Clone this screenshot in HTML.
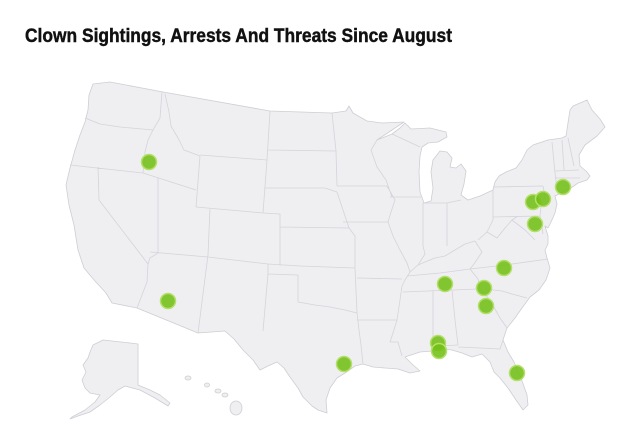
<!DOCTYPE html>
<html><head><meta charset="utf-8"><style>
html,body{margin:0;padding:0;background:#fff;}
svg{display:block;}
</style></head><body>
<svg width="640" height="447" viewBox="0 0 640 447" xmlns="http://www.w3.org/2000/svg">
<rect width="640" height="447" fill="#fff"/>
<text x="25" y="42" font-family="Liberation Sans, sans-serif" font-weight="bold" font-size="19" fill="#111" stroke="#111" stroke-width="0.45" textLength="427" lengthAdjust="spacingAndGlyphs">Clown Sightings, Arrests And Threats Since August</text>
<path fill="#efeff2" stroke="#cdcdd4" stroke-width="0.8" stroke-linejoin="round" d="M93,84 L110,82 L163,92 L270,111 L332,113 L346,111 L349,106 L353,113 L367,121 L382,123 L404,122 L392,130 L377,140 L392,134 L400,128 L405,123 L411,129 L430,128 L446,132 L447,137 L438,142 L428,143 L422,147 L420,156 L419,172 L420,192 L424,203 L431,201 L433,188 L431,172 L433,160 L440,151 L447,152 L452,158 L450,167 L456,168 L461,164 L466,171 L464,184 L461,195 L468,200 L480,196 L493,190 L495,182 L499,176 L506,172 L516,168 L522,160 L527,150 L533,145 L548,140 L562,138 L566,136 L570,110 L573,106 L587,100 L592,110 L600,119 L605,127 L597,136 L585,145 L579,155 L580,166 L586,171 L590,176 L587,180 L578,183 L571,188 L563,192 L555,196 L557,204 L555,213 L551,222 L548,228 L545,226 L548,236 L548,244 L545,250 L547,258 L550,268 L546,280 L539,290 L530,297 L522,308 L515,318 L507,328 L503,340 L508,352 L514,362 L521,378 L527,395 L528,405 L523,410 L516,400 L508,388 L500,378 L494,372 L490,362 L482,354 L472,357 L462,353 L452,350 L442,349 L433,351 L420,352 L405,357 L412,364 L420,371 L410,373 L398,369 L385,368 L373,367 L363,364 L355,366 L345,373 L337,378 L330,388 L326,400 L327,413 L318,410 L312,406 L303,397 L298,388 L290,377 L284,368 L277,362 L268,366 L260,370 L253,360 L243,350 L234,339 L225,331 L198,333 L137,308 L112,303 L106,293 L95,281 L84,268 L78,250 L74,225 L69,205 L66,185 L70,168 L75,150 L80,135 L85,122 L88,110 L89,95 Z"/>
<path fill="none" stroke="#d3d3da" stroke-width="0.8" stroke-linejoin="round" d="
M85,118 L100,124 L120,127 L153,130
M162,92 L160,118 L153,130
M153,130 L148,140 L145,152 L143,173
M70,165 L143,173
M143,173 L196,190
M165,94 L169,112 L171,126 L178,138 L184,150 L200,156
M200,156 L196,207
M200,155 L267,160
M270,111 L267,160
M267,160 L263,213
M196,207 L263,213
M210,208 L208,255 L198,333
M158,178 L158,253
M158,253 L150,258 L148,264
M98,167 L99,200 L148,264
M148,264 L147,282 L137,308
M150,252 L208,257 L268,264 L300,266 L355,268
M263,213 L280,214 L280,266
M280,227 L349,228
M265,188 L325,188 L337,192
M268,150 L336,151
M332,113 L336,151 L337,186
M337,192 L343,210 L349,228
M337,186 L387,186
M343,222 L388,222
M387,186 L395,200 L391,212 L388,222
M349,228 L355,236 L355,268
M388,222 L393,236 L400,250 L407,263 L410,272 L405,280 L402,286
M357,278 L402,279
M355,268 L357,313
M268,274 L298,275
M268,264 L268,274 L263,331
M298,275 L298,302 L315,305 L330,307 L345,310 L357,313
M357,313 L359,330 L361,345 L363,364
M357,320 L397,320
M402,286 L400,300 L397,320 L393,333 L390,342 L398,342 L402,356
M433,290 L433,350
M403,292 L478,289
M407,276 L440,273 L470,269 L505,265 L548,259
M470,269 L478,279 L480,289
M452,290 L455,320 L458,345
M438,346 L458,345
M458,347 L480,348 L500,349 L503,340
M480,289 L490,300 L500,318 L507,328
M485,289 L502,291 L512,294 L527,298
M410,272 L418,265 L425,262 L435,258 L445,256 L455,250 L465,244 L475,241
M423,203 L423,246 L425,254 L418,265
M447,203 L447,246
M423,203 L447,203 L461,200
M390,197 L421,197
M377,140 L371,150 L377,167 L386,180 L392,197
M392,134 L405,140 L420,147
M493,190 L493,220 L487,232 L478,240
M475,241 L482,252 L474,264 L470,269
M487,232 L497,238 L505,228 L512,220 L518,216
M493,187 L543,186
M493,217 L540,216
M543,186 L545,196 L541,206 L540,216
M540,216 L543,234
M512,220 L525,230 L535,240
M552,142 L555,173 L557,190
M562,140 L564,170
M568,138 L571,152 L574,166
M555,178 L580,178
M555,171 L579,170
"/>
<path fill="#efeff2" stroke="#cdcdd4" stroke-width="0.8" stroke-linejoin="round" d="M93,345 L103,340 L130,343 L138,344 L138,385 L150,390 L160,395 L170,403 L168,406 L155,398 L140,390 L125,386 L118,390 L110,397 L100,405 L90,412 L78,416 L70,419 L72,417 L85,410 L95,402 L100,395 L90,393 L85,388 L82,380 L86,372 L83,365 L88,358 L90,352 Z"/>
<g fill="#efeff2" stroke="#cdcdd4" stroke-width="0.8">
<ellipse cx="188" cy="378" rx="3" ry="2"/>
<ellipse cx="207" cy="385" rx="2.5" ry="2"/>
<ellipse cx="218" cy="391" rx="3" ry="2"/>
<ellipse cx="225" cy="395" rx="3" ry="2"/>
<ellipse cx="236" cy="408" rx="6" ry="7"/>
</g>
<g fill="#72bf14" fill-opacity="0.88" stroke="#b4df6a" stroke-width="1.5">
<circle cx="149" cy="162" r="7.5"/>
<circle cx="168" cy="301" r="7.5"/>
<circle cx="344" cy="364" r="7.5"/>
<circle cx="445" cy="284" r="7.5"/>
<circle cx="504" cy="268" r="7.5"/>
<circle cx="484" cy="288" r="7.5"/>
<circle cx="486" cy="306" r="7.5"/>
<circle cx="438" cy="343" r="7.5"/>
<circle cx="439" cy="351" r="7.5"/>
<circle cx="517" cy="373" r="7.5"/>
<circle cx="533" cy="202" r="7.5"/>
<circle cx="543" cy="199" r="7.5"/>
<circle cx="563" cy="187" r="7.5"/>
<circle cx="535" cy="224" r="7.5"/>
</g>
</svg>
</body></html>
